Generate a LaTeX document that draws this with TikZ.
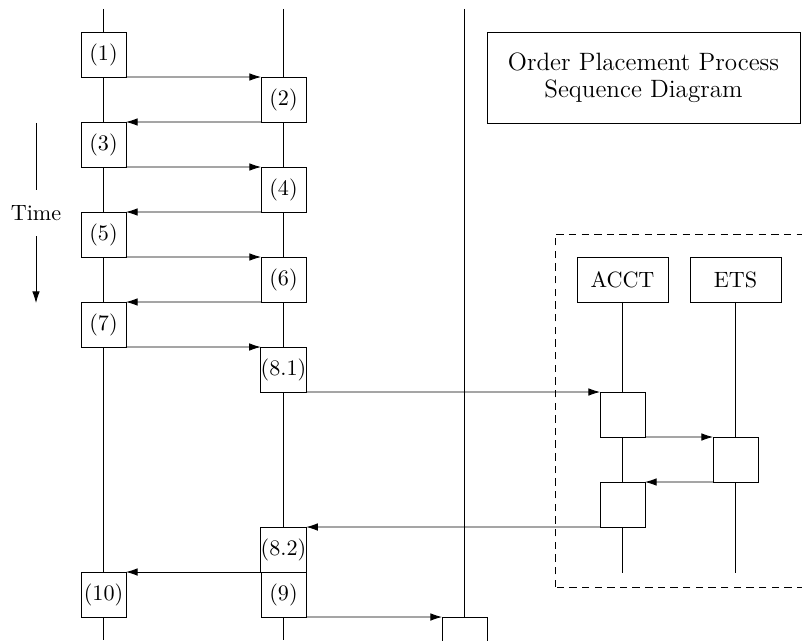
\documentclass[tikz,border=0pt]{standalone}
\usetikzlibrary{arrows.meta}
\begin{document}
\begin{tikzpicture}[x=0.4743pt,y=-0.4743pt,
  font=\fontsize{10.5pt}{12.6pt}\selectfont,
  act/.style={draw, fill=white, minimum size=21.34pt, inner sep=0pt, outer sep=0pt},
  actor/.style={draw, fill=white, minimum width=43.16pt, minimum height=21.34pt, inner sep=0pt, outer sep=0pt},
  msg/.style={-{Latex[length=5.5pt,width=3.6pt]}}]
\useasboundingbox (0,0) rectangle (802,640);
\clip (0,0) rectangle (802,640);
% lifeline coordinates
\coordinate (l1t) at (103.5,9);
\coordinate (l1b) at (103.5,640);
\coordinate (l2t) at (283.5,9);
\coordinate (l2b) at (283.5,640);
\coordinate (l3t) at (464.5,9);
\coordinate (l3b) at (464.5,640);
\draw (l1t) -- (l1b);
\draw (l2t) -- (l2b);
\draw (l3t) -- (l3b);
% dashed region
\coordinate (dtr) at (820,234);
\coordinate (dbl) at (555,587);
\draw[dash pattern=on 3.5pt off 2.5pt] (dbl) rectangle (dtr);
% title
\node[draw, fill=white, minimum width=148.45pt, minimum height=43.16pt, align=center, inner sep=0pt, outer sep=0pt,
  font=\fontsize{11.9pt}{13pt}\selectfont]
  (title) at (643.5,77.5) {Order Placement Process\\Sequence Diagram};
% time arrow
\coordinate (tt) at (36,123);
\coordinate (tb) at (36,303);
\node[inner sep=0pt, minimum height=21.8pt] (time) at (36,213) {Time};
\draw (tt) -- (time.north);
\draw[msg] (time.south) -- (tb);
% actors in dashed region
\node[actor] (acct) at (622.5,279.5) {ACCT};
\node[actor] (ets) at (735.5,279.5) {ETS};
\coordinate (acctb) at (622.5,573);
\coordinate (etsb) at (735.5,573);
\draw (acct.south) -- (acctb);
\draw (ets.south) -- (etsb);
% activation boxes
\node[act] (b1) at (103.5,54.5) {(1)};
\node[act] (b2) at (283.5,99.5) {(2)};
\node[act] (b3) at (103.5,144.5) {(3)};
\node[act] (b4) at (283.5,189.5) {(4)};
\node[act] (b5) at (103.5,234.5) {(5)};
\node[act] (b6) at (283.5,279.5) {(6)};
\node[act] (b7) at (103.5,324.5) {(7)};
\node[act] (b81) at (283.5,369.5) {(8.1)};
\node[act] (a1) at (622.5,414.5) {};
\node[act] (e1) at (735.5,459.5) {};
\node[act] (a2) at (622.5,504.5) {};
\node[act] (b82) at (283.5,549.5) {(8.2)};
\node[act] (b9) at (283.5,594.5) {(9)};
\node[act] (b10) at (103.5,594.5) {(10)};
\node[act] (b11) at (464.5,639.5) {};
% messages
\draw[msg] (b1.south east) -- (b2.north west);
\draw[msg] (b2.south west) -- (b3.north east);
\draw[msg] (b3.south east) -- (b4.north west);
\draw[msg] (b4.south west) -- (b5.north east);
\draw[msg] (b5.south east) -- (b6.north west);
\draw[msg] (b6.south west) -- (b7.north east);
\draw[msg] (b7.south east) -- (b81.north west);
\draw[msg] (b81.south east) -- (a1.north west);
\draw[msg] (a1.south east) -- (e1.north west);
\draw[msg] (e1.south west) -- (a2.north east);
\draw[msg] (a2.south west) -- (b82.north east);
\draw[msg] (b9.north west) -- (b10.north east);
\draw[msg] (b9.south east) -- (b11.north west);
\end{tikzpicture}
\end{document}
